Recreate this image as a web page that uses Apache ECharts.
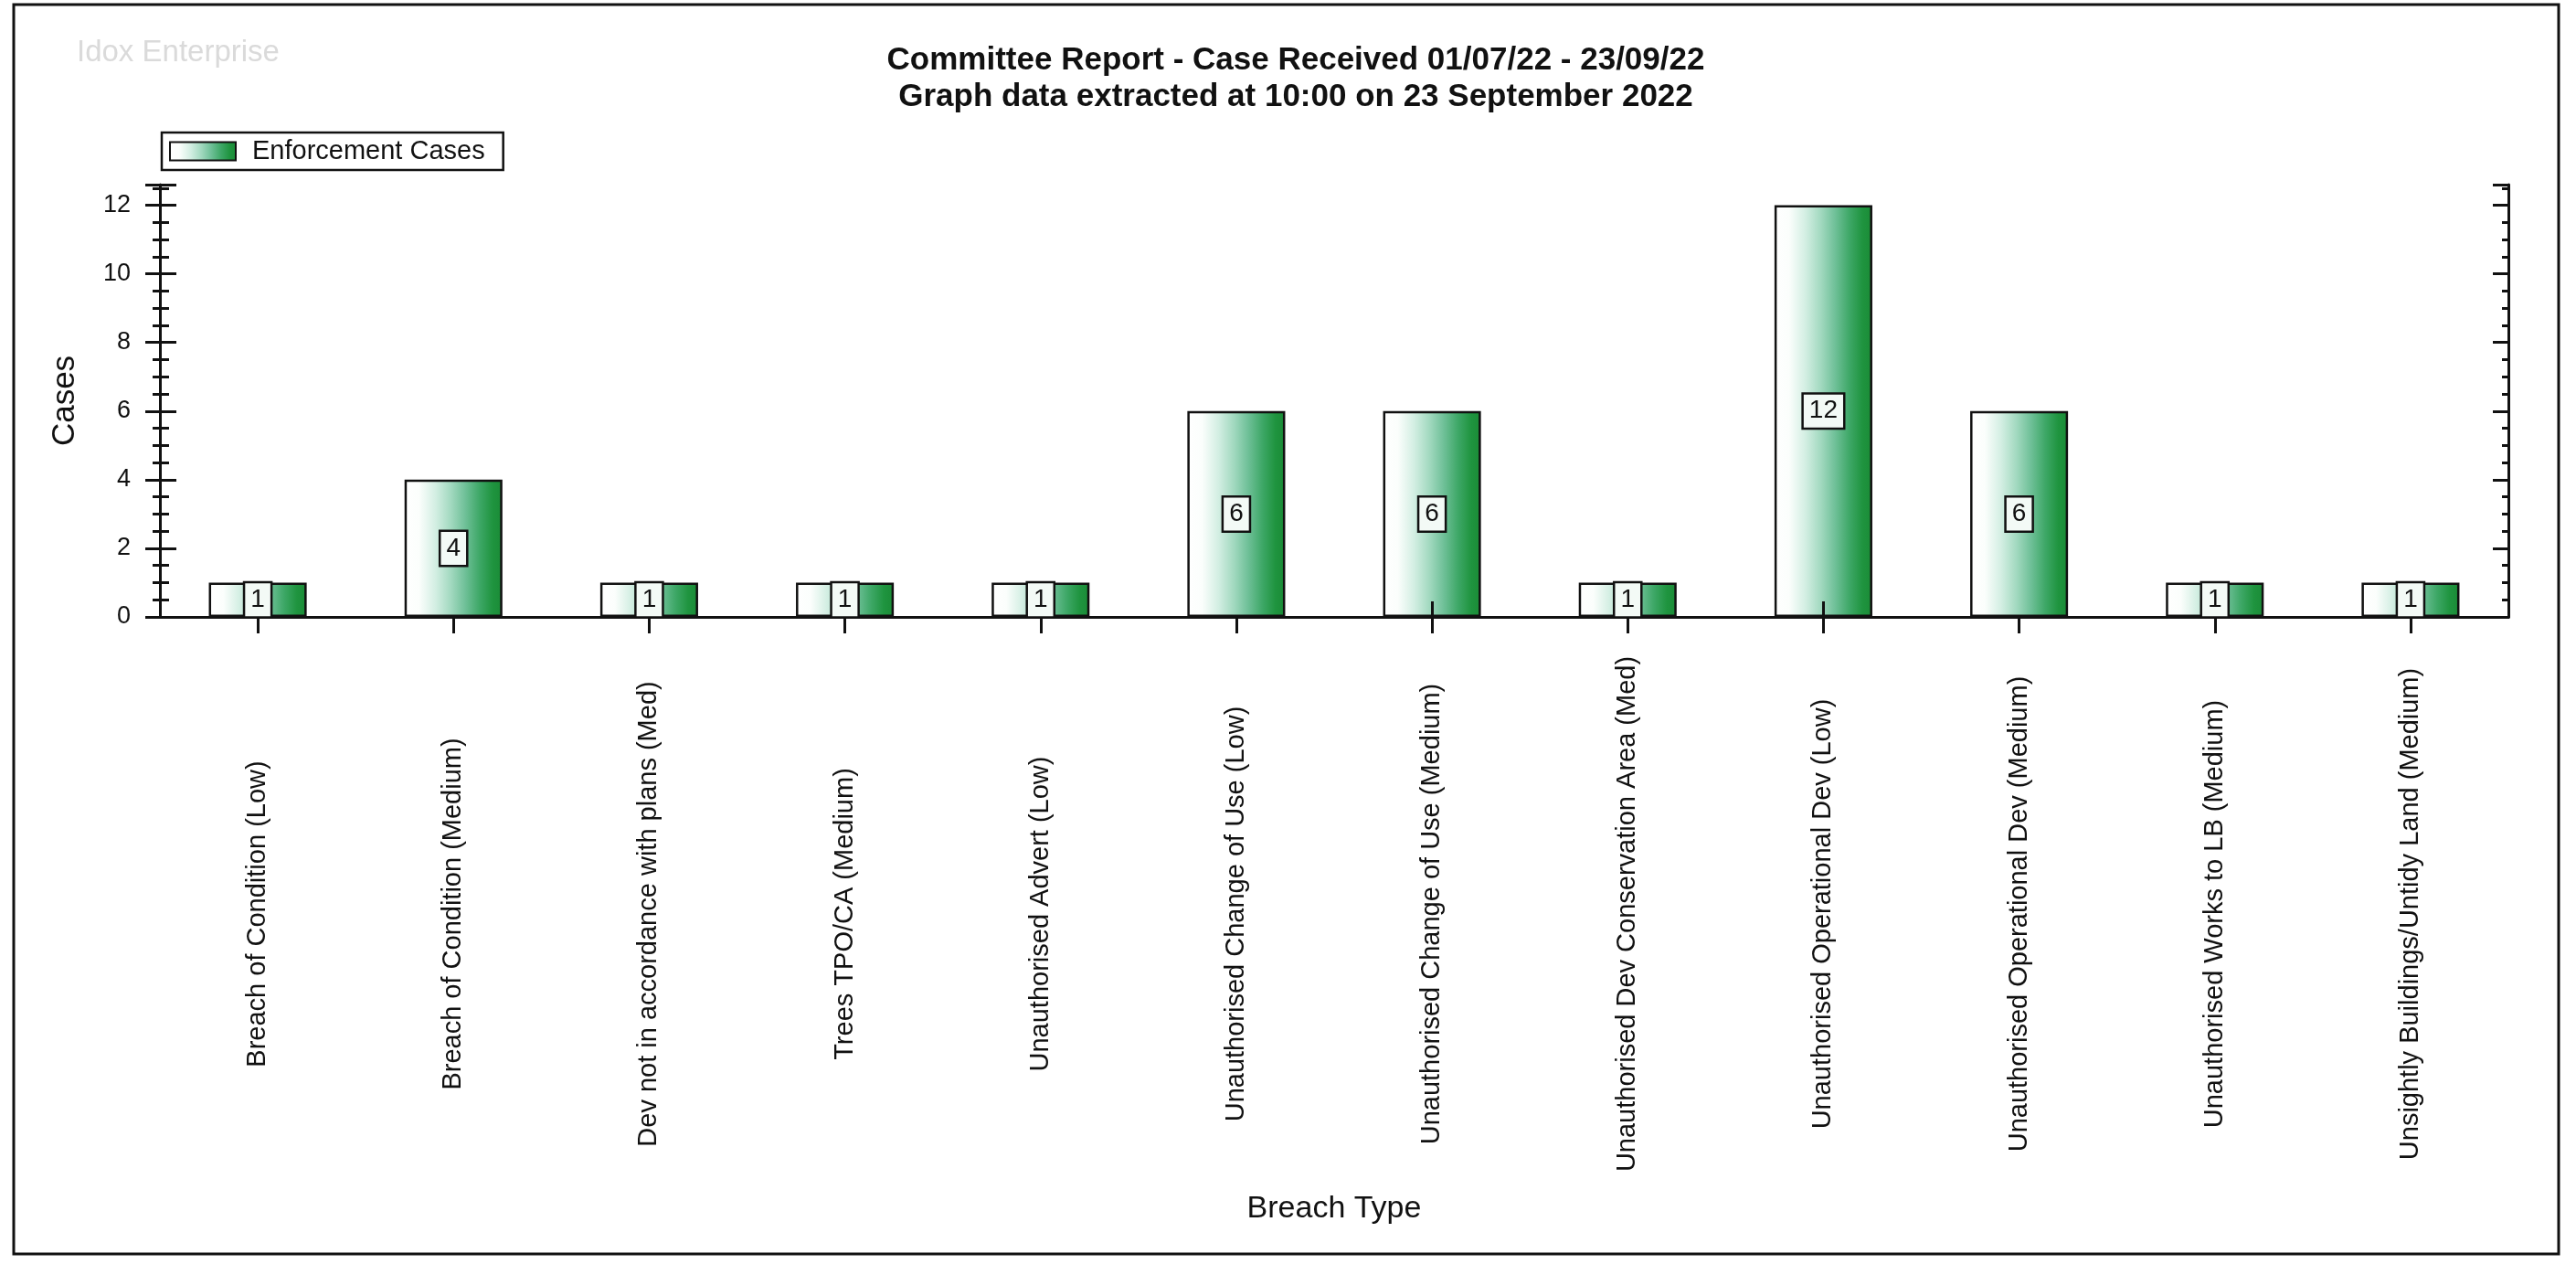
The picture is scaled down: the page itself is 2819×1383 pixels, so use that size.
<!DOCTYPE html>
<html>
<head>
<meta charset="utf-8">
<script src="https://cdn.jsdelivr.net/npm/echarts@6/dist/echarts.min.js"></script>
<style>
html,body{margin:0;padding:0;background:#fff;}
#chart{width:2819px;height:1383px;}
</style>
</head>
<body>
<div id="chart"></div>
<script>
const categories = [
  'Breach of Condition (Low)',
  'Breach of Condition (Medium)',
  'Dev not in accordance with plans (Med)',
  'Trees TPO/CA (Medium)',
  'Unauthorised Advert (Low)',
  'Unauthorised Change of Use (Low)',
  'Unauthorised Change of Use (Medium)',
  'Unauthorised Dev Conservation Area (Med)',
  'Unauthorised Operational Dev (Low)',
  'Unauthorised Operational Dev (Medium)',
  'Unauthorised Works to LB (Medium)',
  'Unsightly Buildings/Untidy Land (Medium)'
];
const enforcementCases = [1, 4, 1, 1, 1, 6, 6, 1, 12, 6, 1, 1];
const seriesName = 'Enforcement Cases';
const titleLines = ['Committee Report - Case Received 01/07/22 - 23/09/22', 'Graph data extracted at 10:00 on 23 September 2022'];
const watermark = 'Idox Enterprise';
const yAxisName = 'Cases';
const xAxisName = 'Breach Type';
const yMin = 0, yMax = 12.6, yMajor = 2, yMinor = 0.5;

const FONT = '"Liberation Sans", Arial, sans-serif';
const chart = echarts.init(document.getElementById('chart'), null, {renderer: 'canvas'});

const barFill = new echarts.graphic.LinearGradient(0, 0, 1, 0, [
  {offset: 0, color: '#ffffff'},
  {offset: 0.15, color: '#fbfefc'},
  {offset: 0.32, color: '#d2eee2'},
  {offset: 0.48, color: '#a0d8be'},
  {offset: 0.62, color: '#6fc098'},
  {offset: 0.77, color: '#3da766'},
  {offset: 0.9, color: '#1f943f'},
  {offset: 1, color: '#1a8b36'}
]);

const lineStyle = {color: '#111', width: 3};
const baseY = {type: 'value', min: yMin, max: yMax, gridIndex: 0, splitLine: {show: false}, axisLabel: {show: false}};

chart.setOption({
  animation: false,
  backgroundColor: '#fff',
  textStyle: {fontFamily: FONT},
  title: [
    {
      text: titleLines.join('\n'),
      left: 1413, top: 41, textAlign: 'center',
      textStyle: {fontFamily: FONT, fontSize: 35, fontWeight: 'bold', color: '#111', lineHeight: 40}
    },
    {
      text: watermark,
      left: 79, top: 36,
      textStyle: {fontFamily: FONT, fontSize: 33, fontWeight: 'normal', color: '#dadada', lineHeight: 34}
    }
  ],
  legend: {
    left: 177, top: 145,
    orient: 'horizontal',
    padding: [6, 20, 6, 8],
    borderColor: '#111', borderWidth: 2.5,
    itemWidth: 72, itemHeight: 20,
    icon: 'rect',
    textStyle: {fontFamily: FONT, fontSize: 29, color: '#111', padding: [0, 0, 0, 13]},
    data: [seriesName]
  },
  grid: {left: 175, right: 74, top: 202, bottom: 708, containLabel: false, outerBoundsMode: 'none'},
  xAxis: [
    {
      type: 'category', data: categories, position: 'bottom', gridIndex: 0,
      axisLine: {show: true, lineStyle: lineStyle},
      axisTick: {show: true, alignWithLabel: true, inside: false, length: 18, lineStyle: {color: '#111', width: 3}},
      axisLabel: {
        show: true, interval: 0, rotate: 90, align: 'center', verticalAlign: 'middle',
        margin: 325, fontFamily: FONT, fontSize: 29, color: '#111'
      },
      name: xAxisName, nameLocation: 'middle', nameGap: 631,
      nameTextStyle: {fontFamily: FONT, fontSize: 34, color: '#111'},
      splitLine: {show: false}
    },
    {
      type: 'category', data: categories, position: 'bottom', gridIndex: 0, z: 3,
      axisLine: {show: false},
      axisTick: {show: true, alignWithLabel: true, inside: true, length: 17, lineStyle: {color: '#111', width: 3}},
      axisLabel: {show: false}, splitLine: {show: false}
    },
    {
      type: 'category', data: categories, position: 'top', gridIndex: 0,
      axisLine: {show: true, lineStyle: lineStyle},
      axisTick: {show: true, alignWithLabel: true, inside: true, length: 17, lineStyle: {color: '#111', width: 3}},
      axisLabel: {show: false}, splitLine: {show: false}
    }
  ],
  yAxis: [
    Object.assign({}, baseY, {
      position: 'left', interval: yMajor,
      axisLine: {show: true, lineStyle: lineStyle},
      axisTick: {show: true, inside: false, length: 16, lineStyle: {color: '#111', width: 3}},
      axisLabel: {
        show: true, margin: 32, fontFamily: FONT, fontSize: 27, color: '#111',
        formatter: function (v) { return (Math.abs(v % yMajor) < 1e-9) ? String(v) : ''; }
      },
      name: yAxisName, nameLocation: 'middle', nameGap: 86, nameRotate: 90,
      nameTextStyle: {fontFamily: FONT, fontSize: 35, color: '#111'}
    }),
    Object.assign({}, baseY, {
      position: 'left', interval: yMajor, z: 3,
      axisLine: {show: false},
      axisTick: {show: true, inside: true, length: 18, lineStyle: {color: '#111', width: 3}}
    }),
    Object.assign({}, baseY, {
      position: 'left', interval: yMinor,
      axisLine: {show: false},
      axisTick: {show: true, inside: false, length: 8, lineStyle: {color: '#111', width: 3}}
    }),
    Object.assign({}, baseY, {
      position: 'left', interval: yMinor,
      axisLine: {show: false},
      axisTick: {show: true, inside: true, length: 10, lineStyle: {color: '#111', width: 3}}
    }),
    Object.assign({}, baseY, {
      position: 'right', interval: yMajor,
      axisLine: {show: true, lineStyle: lineStyle},
      axisTick: {show: true, inside: true, length: 17, lineStyle: {color: '#111', width: 3}}
    }),
    Object.assign({}, baseY, {
      position: 'right', interval: yMinor,
      axisLine: {show: false},
      axisTick: {show: true, inside: true, length: 7, lineStyle: {color: '#111', width: 3}}
    })
  ],
  series: [
    {
      name: seriesName,
      type: 'bar',
      xAxisIndex: 0, yAxisIndex: 0,
      data: enforcementCases,
      barWidth: '50%',
      barGap: '-100%',
      z: 2,
      itemStyle: {color: barFill, borderColor: '#111', borderWidth: 2.5},
      label: {show: false}
    },
    {
      name: seriesName + ' labels',
      type: 'bar',
      xAxisIndex: 0, yAxisIndex: 0,
      data: enforcementCases,
      barWidth: '50%',
      barGap: '-100%',
      z: 4,
      silent: true,
      itemStyle: {color: 'rgba(0,0,0,0)', borderWidth: 0},
      label: {
        show: true, position: 'inside',
        fontFamily: FONT, fontSize: 28, color: '#111', lineHeight: 28,
        backgroundColor: '#f3faf6', borderColor: '#111', borderWidth: 2.5,
        padding: [4, 6, 4, 6]
      }
    }
  ],
  graphic: [
    {
      type: 'rect', silent: true, z: 100,
      shape: {x: 15, y: 5, width: 2785, height: 1367},
      style: {fill: 'none', stroke: '#111', lineWidth: 3}
    }
  ]
});
</script>
</body>
</html>
